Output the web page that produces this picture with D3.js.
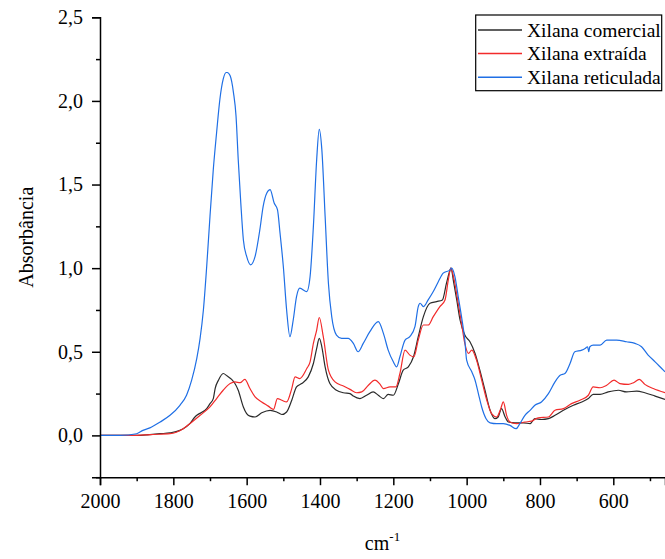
<!DOCTYPE html>
<html>
<head>
<meta charset="utf-8">
<script src="https://cdn.jsdelivr.net/npm/d3@7"></script>
<style>
  html, body { margin: 0; padding: 0; background: #fff; }
  svg { display: block; }
  svg text { font-family: "Liberation Serif", "Times New Roman", serif !important; fill: #000; }
</style>
</head>
<body>
<div id="chart"></div>
<script>
// ---- data ----
const seriesNames = ["Xilana comercial", "Xilana extraída", "Xilana reticulada"];
const seriesColors = ["#2b2b2b", "#f22b2b", "#1f6fe5"];

const wnComercial = [2000,1900,1864,1836,1809,1782,1773,1755,1741,1736,1709,1700,1691,1686,1677,1664,1653,1641,1632,1623,1609,1600,1591,1577,1559,1536,1518,1504,1491,1477,1464,1450,1432,1418,1409,1402,1395,1386,1373,1355,1336,1318,1309,1291,1273,1255,1241,1227,1214,1200,1186,1173,1159,1145,1132,1118,1100,1082,1066,1055,1045,1043,1035,1027,1018,1005,991,977,964,950,936,923,914,905,895,886,868,845,827,814,796,777,759,736,709,686,668,655,636,614,586,564,536,514,486,459];
const absComercial = [0,0,0.005,0.01,0.015,0.03,0.04,0.07,0.11,0.12,0.16,0.19,0.22,0.28,0.33,0.37,0.355,0.335,0.31,0.27,0.17,0.13,0.115,0.11,0.135,0.15,0.14,0.125,0.14,0.21,0.29,0.31,0.35,0.43,0.52,0.58,0.53,0.41,0.31,0.27,0.255,0.25,0.235,0.22,0.24,0.26,0.24,0.22,0.245,0.24,0.31,0.39,0.41,0.47,0.59,0.71,0.79,0.80,0.81,0.91,0.99,1.0,0.91,0.81,0.69,0.60,0.56,0.49,0.39,0.27,0.15,0.10,0.11,0.16,0.11,0.08,0.075,0.075,0.07,0.10,0.095,0.10,0.12,0.15,0.18,0.20,0.22,0.245,0.245,0.26,0.27,0.26,0.265,0.255,0.235,0.215];

const wnExtraida = [2000,1900,1864,1809,1773,1755,1727,1700,1682,1664,1645,1632,1618,1605,1591,1577,1559,1541,1527,1516,1504,1491,1477,1468,1455,1436,1427,1418,1409,1402,1391,1377,1359,1336,1318,1300,1286,1268,1250,1236,1227,1209,1193,1182,1168,1155,1144,1132,1118,1105,1091,1073,1059,1050,1043,1035,1023,1014,1005,995,986,973,959,945,932,918,907,900,891,882,864,841,823,805,777,759,736,714,691,668,655,636,618,598,582,559,545,529,514,491,459];
const absExtraida = [0,0,0.005,0.01,0.04,0.07,0.12,0.17,0.22,0.27,0.31,0.32,0.315,0.335,0.28,0.23,0.20,0.175,0.155,0.22,0.21,0.20,0.28,0.35,0.34,0.40,0.44,0.55,0.63,0.705,0.59,0.39,0.32,0.295,0.275,0.255,0.26,0.30,0.33,0.305,0.28,0.29,0.29,0.37,0.51,0.48,0.47,0.57,0.66,0.66,0.71,0.77,0.81,0.93,1.0,0.94,0.79,0.67,0.55,0.49,0.51,0.45,0.33,0.21,0.13,0.11,0.16,0.20,0.12,0.08,0.07,0.08,0.085,0.105,0.11,0.15,0.16,0.19,0.21,0.24,0.29,0.285,0.30,0.33,0.31,0.305,0.315,0.335,0.305,0.28,0.255];

const wnReticulada = [2000,1945,1900,1883,1864,1836,1809,1782,1764,1750,1736,1727,1718,1709,1700,1691,1682,1673,1664,1656,1653,1645,1636,1629,1623,1616,1609,1600,1589,1577,1564,1555,1545,1536,1525,1516,1509,1500,1491,1482,1473,1464,1455,1436,1427,1418,1409,1402,1395,1386,1377,1368,1355,1341,1323,1309,1296,1282,1264,1241,1227,1214,1200,1191,1182,1168,1155,1141,1132,1127,1118,1105,1091,1077,1064,1045,1041,1032,1023,1014,1005,1000,986,977,968,959,947,936,918,900,882,865,855,841,827,814,796,777,759,745,732,718,705,686,677,670,667,664,655,636,618,591,564,541,523,505,486,468,459];
const absReticulada = [0,0,0.01,0.03,0.045,0.08,0.12,0.18,0.24,0.33,0.46,0.58,0.75,1.01,1.31,1.59,1.81,2.01,2.13,2.17,2.17,2.15,2.05,1.91,1.65,1.39,1.17,1.07,1.02,1.07,1.23,1.37,1.45,1.47,1.39,1.35,1.21,1.01,0.75,0.59,0.69,0.83,0.88,0.86,0.95,1.25,1.65,1.83,1.71,1.31,0.91,0.71,0.60,0.58,0.58,0.55,0.50,0.55,0.62,0.68,0.61,0.51,0.44,0.41,0.47,0.57,0.59,0.65,0.77,0.79,0.77,0.81,0.86,0.92,0.97,0.99,1.0,0.95,0.83,0.71,0.57,0.45,0.38,0.33,0.25,0.17,0.10,0.075,0.07,0.07,0.06,0.04,0.07,0.12,0.15,0.18,0.20,0.25,0.32,0.36,0.37,0.43,0.50,0.51,0.52,0.53,0.50,0.53,0.54,0.54,0.57,0.57,0.56,0.55,0.53,0.48,0.44,0.40,0.38];

const xTickValues = [2000,1800,1600,1400,1200,1000,800,600];
const xTickLabels = ["2000","1800","1600","1400","1200","1000","800","600"];
const xMinorValues = [1900,1700,1500,1300,1100,900,700,500];
const yTickValues = [0,0.5,1,1.5,2,2.5];
const yTickLabels = ["0,0","0,5","1,0","1,5","2,0","2,5"];
const yMinorValues = [-0.25,0.25,0.75,1.25,1.75,2.25];

// ---- layout ----
const W = 665, H = 559;
const plot = {left: 100, right: 665, top: 17.3, bottom: 477.2};
const FONT = '"Liberation Serif", "Times New Roman", serif';

const svg = d3.select("#chart").append("svg").attr("width", W).attr("height", H);

const x = d3.scaleLinear().domain([2000, 459]).range([plot.left, plot.right]);
const y = d3.scaleLinear().domain([-0.25, 2.5]).range([plot.bottom, plot.top]);

const series = [
  {name: seriesNames[0], color: seriesColors[0], wn: wnComercial, v: absComercial},
  {name: seriesNames[1], color: seriesColors[1], wn: wnExtraida, v: absExtraida},
  {name: seriesNames[2], color: seriesColors[2], wn: wnReticulada, v: absReticulada}
];

svg.append("defs").append("clipPath").attr("id", "clip")
  .append("rect").attr("x", plot.left).attr("y", 0).attr("width", plot.right - plot.left).attr("height", plot.bottom);

const line = d3.line().x(d => x(d[0])).y(d => y(d[1])).curve(d3.curveMonotoneX);

const g = svg.append("g").attr("clip-path", "url(#clip)");
series.forEach(s => {
  const pts = s.wn.map((w, i) => [w, s.v[i]]);
  g.append("path").datum(pts)
    .attr("d", line)
    .attr("fill", "none")
    .attr("stroke", s.color)
    .attr("stroke-width", 1.2)
    .attr("stroke-linejoin", "round");
});

// ---- axes ----
const fmtX = v => xTickLabels[xTickValues.indexOf(v)];
const fmtY = v => yTickLabels[yTickValues.indexOf(v)];

svg.append("g").attr("transform", `translate(0,${plot.bottom})`)
  .call(d3.axisBottom(x).tickValues(xTickValues).tickFormat(fmtX).tickSize(8).tickPadding(9));
svg.append("g").attr("transform", `translate(0,${plot.bottom})`)
  .call(d3.axisBottom(x).tickValues(xMinorValues).tickFormat("").tickSize(4))
  .call(a => a.select(".domain").remove());

svg.append("g").attr("transform", `translate(${plot.left},0)`)
  .call(d3.axisLeft(y).tickValues(yTickValues).tickFormat(fmtY).tickSize(8).tickPadding(9));
svg.append("g").attr("transform", `translate(${plot.left},0)`)
  .call(d3.axisLeft(y).tickValues(yMinorValues).tickFormat("").tickSize(4))
  .call(a => a.select(".domain").remove());

svg.selectAll("g[font-family]").attr("font-family", FONT).attr("font-size", 20);
svg.selectAll(".domain").attr("stroke", "#000").attr("stroke-width", 1.5);
svg.selectAll(".tick line").attr("stroke", "#000").attr("stroke-width", 1.5);
svg.selectAll(".tick text").style("font-family", FONT).style("font-size", "20px").attr("fill", "#000");

// axis titles
svg.append("text")
  .attr("transform", `translate(33,${(plot.top + plot.bottom) / 2 - 10}) rotate(-90)`)
  .attr("text-anchor", "middle")
  .style("font-family", FONT).style("font-size", "20px")
  .text("Absorbância");

const xt = svg.append("text")
  .attr("x", (plot.left + plot.right) / 2)
  .attr("y", 550)
  .attr("text-anchor", "middle")
  .style("font-family", FONT).style("font-size", "20px");
xt.append("tspan").text("cm");
xt.append("tspan").attr("dy", -9).style("font-size", "13px").text("-1");

// ---- legend ----
const lg = svg.append("g");
lg.append("rect").attr("x", 475.7).attr("y", 15).attr("width", 186).attr("height", 75.7)
  .attr("fill", "#fff").attr("stroke", "#000").attr("stroke-width", 1.2);
const rowY = [30, 53.5, 77.3];
series.forEach((s, i) => {
  lg.append("line").attr("x1", 478).attr("x2", 522).attr("y1", rowY[i]).attr("y2", rowY[i])
    .attr("stroke", s.color).attr("stroke-width", 1.4);
  lg.append("text").attr("x", 527).attr("y", rowY[i] + 6.5)
    .style("font-family", FONT).style("font-size", "19.5px").text(s.name);
});
</script>
</body>
</html>
